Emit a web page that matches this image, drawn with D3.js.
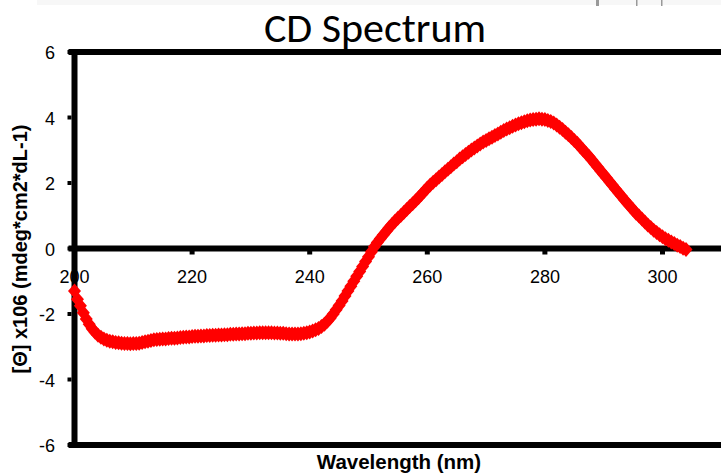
<!DOCTYPE html>
<html>
<head>
<meta charset="utf-8">
<script src="https://cdn.jsdelivr.net/npm/d3@7"></script>
<style>
  html, body { margin: 0; padding: 0; background: #fff; }
  svg { display: block; }
</style>
</head>
<body>
<svg id="chart" width="721" height="473"></svg>
<script>
// Wavelength (nm), one reading every half nanometre
const wavelengths = d3.range(200, 304.25, 0.5);

// Mean residue ellipticity [Θ] x10^6 at each wavelength
const ellipticity = [
  -1.30, -1.55, -1.75, -1.96, -2.15, -2.31, -2.45, -2.56, -2.65, -2.71,
  -2.76, -2.80, -2.83, -2.85, -2.87, -2.88, -2.89, -2.90, -2.90, -2.91,
  -2.90, -2.90, -2.89, -2.87, -2.85, -2.83, -2.81, -2.79, -2.78, -2.77,
  -2.76, -2.76, -2.75, -2.74, -2.74, -2.73, -2.72, -2.71, -2.70, -2.70,
  -2.69, -2.68, -2.68, -2.67, -2.67, -2.66, -2.66, -2.65, -2.65, -2.64,
  -2.64, -2.63, -2.63, -2.62, -2.62, -2.61, -2.61, -2.60, -2.60, -2.59,
  -2.59, -2.58, -2.58, -2.57, -2.57, -2.57, -2.57, -2.57, -2.58, -2.58,
  -2.59, -2.59, -2.60, -2.61, -2.61, -2.61, -2.61, -2.60, -2.59, -2.57,
  -2.55, -2.52, -2.48, -2.44, -2.38, -2.31, -2.22, -2.12, -2.00, -1.87,
  -1.74, -1.60, -1.45, -1.30, -1.15, -1.00, -0.85, -0.70, -0.55, -0.40,
  -0.25, -0.10,  0.05,  0.18,  0.30,  0.41,  0.52,  0.63,  0.73,  0.83,
   0.92,  1.01,  1.10,  1.19,  1.28,  1.37,  1.46,  1.55,  1.65,  1.75,
   1.85,  1.94,  2.02,  2.10,  2.18,  2.26,  2.34,  2.42,  2.50,  2.58,
   2.65,  2.73,  2.80,  2.87,  2.94,  3.01,  3.07,  3.13,  3.19,  3.25,
   3.30,  3.35,  3.40,  3.45,  3.50,  3.55,  3.60,  3.65,  3.69,  3.73,
   3.77,  3.81,  3.84,  3.87,  3.90,  3.92,  3.94,  3.95,  3.96,  3.95,
   3.94,  3.91,  3.88,  3.83,  3.77,  3.70,  3.63,  3.55,  3.47,  3.39,
   3.30,  3.21,  3.11,  3.01,  2.91,  2.81,  2.70,  2.59,  2.48,  2.37,
   2.26,  2.15,  2.04,  1.93,  1.82,  1.71,  1.60,  1.49,  1.39,  1.28,
   1.18,  1.08,  0.99,  0.90,  0.81,  0.72,  0.64,  0.56,  0.49,  0.42,
   0.36,  0.30,  0.25,  0.20,  0.15,  0.10,  0.06,  0.01, -0.03
];

const xTicks = [200, 220, 240, 260, 280, 300];
const yTicks = [-6, -4, -2, 0, 2, 4, 6];

const chartTitle = "CD Spectrum";
const xTitle = "Wavelength (nm)";
const yTitle = "[Θ] x106 (mdeg*cm2*dL-1)";

const svg = d3.select("#chart");

const x = d3.scaleLinear().domain([200, 310]).range([74.5, 74.5 + 588 * 1.1]);
const y = d3.scaleLinear().domain([-6, 6]).range([445, 52]);

const axisFont = "'Liberation Sans', Arial, sans-serif";

// faint strip along the top edge
svg.append("rect").attr("x", 37).attr("y", 0).attr("width", 684).attr("height", 5)
  .attr("fill", "#f7f7f7");
[597, 637, 662].forEach((px, i) => {
  svg.append("rect").attr("x", px - 1).attr("y", 0).attr("width", i === 0 ? 3 : 1.5)
    .attr("height", 6).attr("fill", "#999");
});

// title
svg.append("text")
  .attr("x", 375).attr("y", 42)
  .attr("text-anchor", "middle")
  .attr("font-family", "Carlito, Lato, 'Open Sans', sans-serif")
  .attr("font-size", 42)
  .attr("fill", "#000")
  .text(chartTitle);

// y tick labels
svg.append("g").selectAll("text").data(yTicks).join("text")
  .attr("x", 55)
  .attr("y", d => y(d) + 1)
  .attr("text-anchor", "end")
  .attr("dominant-baseline", "central")
  .attr("font-family", axisFont)
  .attr("font-size", 18)
  .attr("fill", "#000")
  .text(d => d);

// x tick labels, sitting just under the zero line
svg.append("g").selectAll("text").data(xTicks).join("text")
  .attr("x", d => x(d))
  .attr("y", y(0) + 34)
  .attr("text-anchor", "middle")
  .attr("font-family", axisFont)
  .attr("font-size", 18)
  .attr("fill", "#000")
  .text(d => d);

// axis titles
svg.append("text")
  .attr("transform", "translate(27,249) rotate(-90)")
  .attr("text-anchor", "middle")
  .attr("font-family", axisFont)
  .attr("font-weight", "bold")
  .attr("font-size", 20)
  .attr("fill", "#000")
  .text(yTitle);

svg.append("text")
  .attr("x", 399).attr("y", 469)
  .attr("text-anchor", "middle")
  .attr("font-family", axisFont)
  .attr("font-weight", "bold")
  .attr("font-size", 20.5)
  .attr("fill", "#000")
  .text(xTitle);

// frame and zero line
const frame = svg.append("g").attr("stroke", "#000").attr("stroke-width", 6);
frame.append("line").attr("x1", x(200)).attr("x2", x(200))
  .attr("y1", y(6) - 3).attr("y2", y(-6) + 3);
frame.append("line").attr("x1", x(200) - 6).attr("x2", 721)
  .attr("y1", y(6)).attr("y2", y(6));
frame.append("line").attr("x1", x(200) - 6).attr("x2", 721)
  .attr("y1", y(-6)).attr("y2", y(-6));
frame.append("line").attr("x1", x(200) - 6).attr("x2", 721)
  .attr("y1", y(0)).attr("y2", y(0));

// tick marks: left of the y axis, below the zero line
svg.append("g").selectAll("rect").data(yTicks).join("rect")
  .attr("x", x(200) - 7).attr("y", d => y(d) - 2)
  .attr("width", 4).attr("height", 4).attr("fill", "#000");
svg.append("g").selectAll("rect").data(xTicks.slice(1)).join("rect")
  .attr("x", d => x(d) - 2.5).attr("y", y(0) + 2)
  .attr("width", 5).attr("height", 4).attr("fill", "#000");

// spectrum drawn as diamond markers
const diamond = "M0,-7.5L6.5,0L0,7.5L-6.5,0Z";
svg.append("g").selectAll("path")
  .data(wavelengths.map((w, i) => [w, ellipticity[i]]))
  .join("path")
  .attr("d", diamond)
  .attr("transform", d => `translate(${x(d[0])},${y(d[1])})`)
  .attr("fill", "#ff0000");
</script>
</body>
</html>
